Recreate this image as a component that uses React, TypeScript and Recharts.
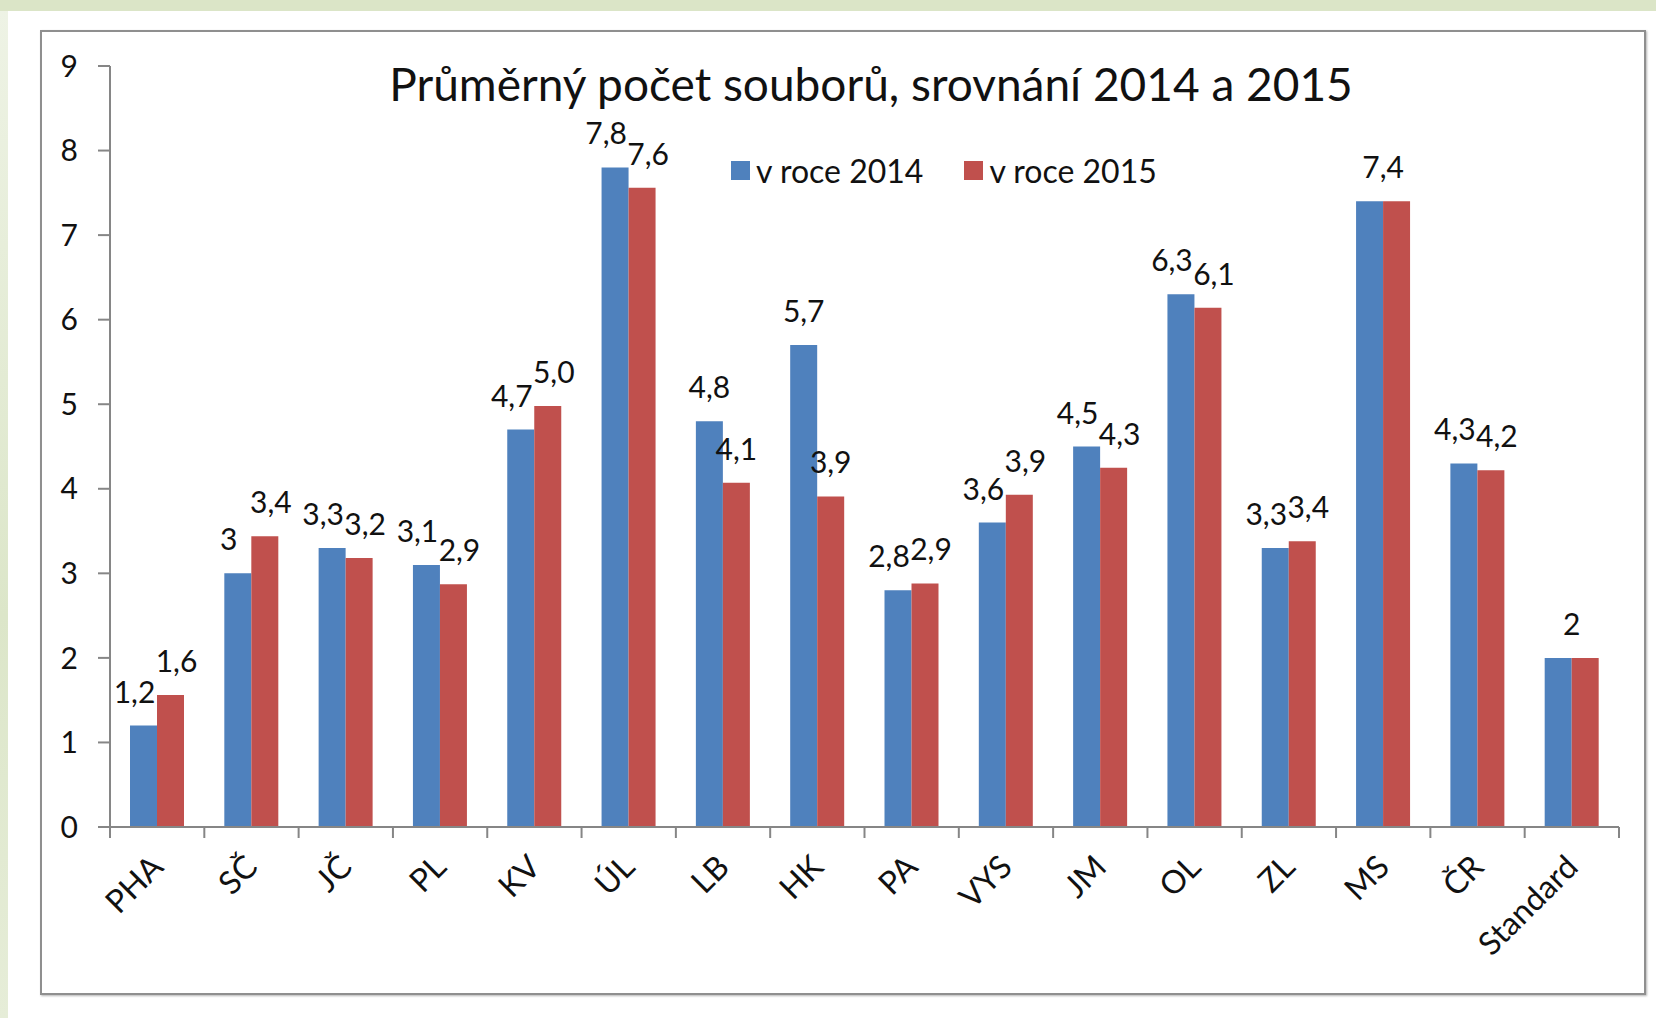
import { BarChart, Bar, XAxis, YAxis, Legend, LabelList } from 'recharts';

const categories = ['PHA', 'SČ', 'JČ', 'PL', 'KV', 'ÚL', 'LB', 'HK', 'PA', 'VYS', 'JM', 'OL', 'ZL', 'MS', 'ČR', 'Standard'];
const values2014 = [1.2, 3.0, 3.3, 3.1, 4.7, 7.8, 4.8, 5.7, 2.8, 3.6, 4.5, 6.3, 3.3, 7.4, 4.3, 2.0];
const values2015 = [1.56, 3.44, 3.18, 2.87, 4.98, 7.56, 4.07, 3.91, 2.88, 3.93, 4.25, 6.14, 3.38, 7.4, 4.22, 2.0];
const labels2014 = ['1,2', '3', '3,3', '3,1', '4,7', '7,8', '4,8', '5,7', '2,8', '3,6', '4,5', '6,3', '3,3', '7,4', '4,3', '2'];
const labels2015 = ['1,6', '3,4', '3,2', '2,9', '5,0', '7,6', '4,1', '3,9', '2,9', '3,9', '4,3', '6,1', '3,4', '', '4,2', ''];
const yTicks = [0, 1, 2, 3, 4, 5, 6, 7, 8, 9];

const data = categories.map((name, i) => ({
  name,
  v2014: values2014[i],
  v2015: values2015[i],
  l2014: labels2014[i],
  l2015: labels2015[i],
}));

const W = 1656;
const H = 1018;
const MARGIN = { top: 66, right: 37, bottom: 91, left: 50 };
const Y_WIDTH = 60;
const X_HEIGHT = 100;
const PLOT_W = W - MARGIN.left - Y_WIDTH - MARGIN.right;
const PLOT_H = H - MARGIN.top - MARGIN.bottom - X_HEIGHT;
const BAND = PLOT_W / categories.length;
const PX_PER_UNIT = PLOT_H / 9;

const FONT = 'Lato, "Open Sans", sans-serif';
const AXIS = '#868686';
const BLUE = '#4f81bd';
const RED = '#c0504d';

const XTick = (props: any) => {
  const { x, y, payload, index } = props;
  const half = BAND / 2;
  const ax = x + 8;
  const ay = y + 42;
  return (
    <g>
      <line x1={x - half} y1={y} x2={x - half} y2={y + 11} stroke={AXIS} strokeWidth={2} />
      {index === categories.length - 1 && (
        <line x1={x + half} y1={y} x2={x + half} y2={y + 11} stroke={AXIS} strokeWidth={2} />
      )}
      <text
        x={ax}
        y={ay}
        transform={`rotate(-45, ${ax}, ${ay})`}
        textAnchor="end"
        fontFamily={FONT}
        fontSize={32}
        fill="#111"
      >
        {payload.value}
      </text>
    </g>
  );
};

const makeLabel = (key: 'l2014' | 'l2015') => (props: any) => {
  const { x, y, width, index } = props;
  const row = data[index];
  const text = row[key];
  if (!text) return null;
  let shift = 0;
  if (!row.l2015) {
    // single label over the pair when both years are equal
    shift = width / 2;
  } else if (Math.abs(row.v2014 - row.v2015) * PX_PER_UNIT < 40) {
    // push labels apart when they sit at similar heights
    shift = key === 'l2014' ? -9 : 6;
  }
  return (
    <text
      x={x + width / 2 + shift}
      y={y - 23}
      textAnchor="middle"
      fontFamily={FONT}
      fontSize={30}
      fill="#111"
    >
      {text}
    </text>
  );
};

const renderLegend = (props: any) => {
  const { payload } = props;
  return (
    <div style={{ display: 'flex', alignItems: 'center', fontFamily: FONT, fontSize: 32, color: '#111' }}>
      {payload.map((item: any, i: number) => (
        <div key={i} style={{ display: 'flex', alignItems: 'center', marginRight: 41 }}>
          <span style={{ width: 19, height: 19, background: item.color, marginRight: 6, display: 'inline-block' }} />
          <span>{item.value}</span>
        </div>
      ))}
    </div>
  );
};

export default function App() {
  return (
    <div style={{ position: 'absolute', left: 0, top: 0, width: W, height: H, background: '#fff', overflow: 'hidden' }}>
      <div style={{ position: 'absolute', left: 0, top: 0, width: W, height: 11, background: '#dbe5c7' }} />
      <div
        style={{
          position: 'absolute',
          left: 0,
          top: 11,
          width: 8,
          height: H - 11,
          background: 'linear-gradient(to bottom, #eef3e5 0%, #dce6c9 60%, #e6edd8 100%)',
        }}
      />
      <div
        style={{
          position: 'absolute',
          left: 40,
          top: 30,
          width: 1602,
          height: 961,
          border: '2px solid #8f8f8f',
          boxShadow: '1px 1px 2px #b5b5b5',
        }}
      />
      <div
        style={{
          position: 'absolute',
          left: 0,
          width: 1742,
          top: 56,
          textAlign: 'center',
          fontFamily: FONT,
          fontSize: 46,
          color: '#111',
          lineHeight: '56px',
        }}
      >
        Průměrný počet souborů, srovnání 2014 a 2015
      </div>
      <div style={{ position: 'absolute', left: 0, top: 0 }}>
        <BarChart width={W} height={H} data={data} margin={MARGIN} barGap={0} barSize={27}>
          <XAxis
            dataKey="name"
            interval={0}
            height={X_HEIGHT}
            tickSize={0}
            tickMargin={0}
            tickLine={false}
            axisLine={{ stroke: AXIS, strokeWidth: 2 }}
            tick={<XTick />}
          />
          <YAxis
            domain={[0, 9]}
            ticks={yTicks}
            width={Y_WIDTH}
            tickSize={12}
            tickMargin={20}
            axisLine={{ stroke: AXIS, strokeWidth: 2 }}
            tickLine={{ stroke: AXIS, strokeWidth: 2 }}
            tick={{ fontFamily: FONT, fontSize: 30, fill: '#111' }}
          />
          <Legend
            layout="horizontal"
            verticalAlign="middle"
            align="center"
            content={renderLegend}
            wrapperStyle={{ top: 151, left: 731, width: 'auto' }}
          />
          <Bar dataKey="v2014" name="v roce 2014" fill={BLUE} isAnimationActive={false}>
            <LabelList dataKey="l2014" content={makeLabel('l2014')} />
          </Bar>
          <Bar dataKey="v2015" name="v roce 2015" fill={RED} isAnimationActive={false}>
            <LabelList dataKey="l2015" content={makeLabel('l2015')} />
          </Bar>
        </BarChart>
      </div>
    </div>
  );
}
